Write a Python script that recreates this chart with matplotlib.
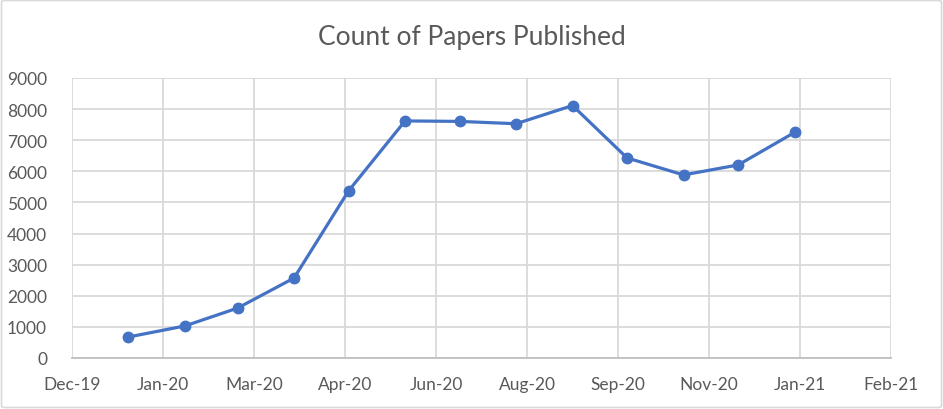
import matplotlib
matplotlib.use("Agg")
import matplotlib.pyplot as plt
import matplotlib.dates as mdates
from matplotlib.patches import FancyBboxPatch
import numpy as np
import datetime as dt

months = ["2020-01-01", "2020-02-01", "2020-03-01", "2020-04-01", "2020-05-01",
          "2020-06-01", "2020-07-01", "2020-08-01", "2020-09-01", "2020-10-01",
          "2020-11-01", "2020-12-01", "2021-01-01"]
counts = [675, 1030, 1605, 2570, 5375, 7620, 7605, 7530, 8115, 6430, 5885, 6205, 7250]

axis_start = "2019-12-01"
axis_step_days = 50
axis_n_ticks = 10
y_ticks = list(range(0, 9001, 1000))

title = "Count of Papers Published"
text_color = "#595959"
line_color = "#4472C4"
grid_color = "#d9d9d9"

plt.rcParams['font.family'] = ['Lato', 'DejaVu Sans']

fig = plt.figure(figsize=(9.43, 4.10), dpi=100)
ax = fig.add_axes([72/943, 51/410, (891-72)/943, (359-79)/410])

x = [dt.datetime.strptime(m, "%Y-%m-%d") for m in months]
ax.plot(x, counts, color=line_color, lw=2.3, marker='o', markersize=7.5,
        markerfacecolor=line_color, markeredgecolor=line_color, zorder=3,
        solid_capstyle='round')

start = dt.datetime.strptime(axis_start, "%Y-%m-%d")
xt = [start + dt.timedelta(days=axis_step_days * i) for i in range(axis_n_ticks)]
ax.set_xlim(xt[0], xt[-1])
ax.set_xticks(xt)
ax.xaxis.set_major_formatter(mdates.DateFormatter('%b-%y'))
ax.set_ylim(0, 9000)
ax.set_yticks(y_ticks)

ax.grid(True, color=grid_color, lw=1.3)
ax.set_axisbelow(True)
for s in ['top', 'right', 'left']:
    ax.spines[s].set_visible(False)
ax.spines['bottom'].set_color('#bfbfbf')
ax.spines['bottom'].set_linewidth(1.3)
ax.spines['bottom'].set_zorder(2)
ax.tick_params(axis='both', length=0, colors=text_color, labelsize=12.5)
ax.tick_params(axis='x', pad=13)
ax.tick_params(axis='y', pad=18)

fig.text(0.5, 1 - 38/410, title, ha='center', va='center', fontsize=19, color=text_color)

border = FancyBboxPatch((1.5/943, 1.5/410), 940/943, 407/410,
                        boxstyle="round,pad=0,rounding_size=0.004",
                        transform=fig.transFigure, fill=False,
                        edgecolor='#d9d9d9', lw=1.2)
fig.patches.append(border)

fig.savefig("out.png", dpi=100)
